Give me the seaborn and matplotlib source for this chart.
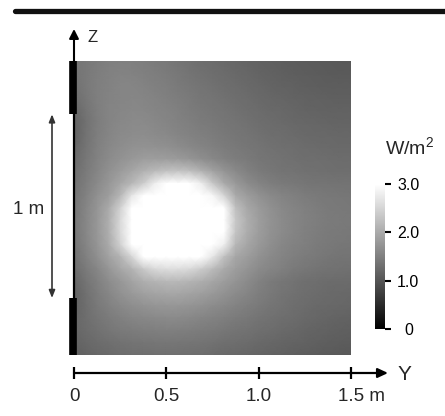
import numpy as np
import matplotlib
matplotlib.use("Agg")
import matplotlib.pyplot as plt
from matplotlib.transforms import offset_copy
import seaborn as sns

# Irradiance (W/m^2) sampled every 1/16 m along Y (columns, 0 -> 1.5 m)
# and every 1/15 m along Z (rows, 1.6 m at the top -> 0 at the bottom).
y_positions = [i * 0.0625 for i in range(25)]
z_positions = [1.6 - i * (1.6 / 24) for i in range(25)]

r00 = [1.38, 1.42, 1.46, 1.50, 1.51, 1.50, 1.48, 1.45, 1.42, 1.38, 1.34, 1.30, 1.27, 1.24, 1.21, 1.18, 1.15, 1.13, 1.11, 1.09, 1.07, 1.06, 1.05, 1.04, 1.04]
r01 = [1.36, 1.42, 1.48, 1.52, 1.54, 1.53, 1.51, 1.48, 1.45, 1.41, 1.37, 1.33, 1.30, 1.27, 1.24, 1.21, 1.18, 1.15, 1.13, 1.11, 1.09, 1.08, 1.07, 1.06, 1.06]
r02 = [1.33, 1.42, 1.49, 1.53, 1.56, 1.56, 1.54, 1.51, 1.48, 1.44, 1.40, 1.36, 1.33, 1.30, 1.27, 1.24, 1.21, 1.18, 1.16, 1.14, 1.12, 1.11, 1.10, 1.09, 1.09]
r03 = [1.28, 1.40, 1.49, 1.54, 1.57, 1.58, 1.57, 1.54, 1.51, 1.47, 1.43, 1.39, 1.36, 1.33, 1.30, 1.27, 1.24, 1.21, 1.19, 1.17, 1.15, 1.14, 1.13, 1.12, 1.12]
r04 = [1.20, 1.36, 1.48, 1.55, 1.58, 1.60, 1.59, 1.57, 1.54, 1.50, 1.46, 1.42, 1.39, 1.36, 1.33, 1.30, 1.27, 1.24, 1.22, 1.20, 1.18, 1.17, 1.16, 1.15, 1.15]
r05 = [1.15, 1.33, 1.47, 1.55, 1.60, 1.62, 1.62, 1.60, 1.57, 1.53, 1.49, 1.45, 1.42, 1.39, 1.36, 1.33, 1.30, 1.27, 1.25, 1.23, 1.21, 1.20, 1.19, 1.18, 1.18]
r06 = [1.15, 1.34, 1.48, 1.57, 1.62, 1.65, 1.66, 1.64, 1.61, 1.57, 1.53, 1.49, 1.46, 1.42, 1.39, 1.36, 1.33, 1.30, 1.28, 1.26, 1.24, 1.23, 1.22, 1.21, 1.21]
r07 = [1.20, 1.37, 1.50, 1.60, 1.66, 1.70, 1.72, 1.71, 1.69, 1.65, 1.60, 1.55, 1.50, 1.46, 1.42, 1.39, 1.36, 1.33, 1.31, 1.29, 1.27, 1.26, 1.25, 1.24, 1.24]
r08 = [1.25, 1.40, 1.53, 1.64, 1.72, 1.79, 1.84, 1.86, 1.85, 1.82, 1.76, 1.68, 1.60, 1.53, 1.47, 1.43, 1.39, 1.36, 1.34, 1.32, 1.30, 1.29, 1.28, 1.27, 1.27]
r09 = [1.30, 1.43, 1.57, 1.70, 1.82, 1.95, 2.08, 2.20, 2.28, 2.30, 2.25, 2.10, 1.92, 1.75, 1.62, 1.52, 1.45, 1.40, 1.37, 1.35, 1.33, 1.32, 1.31, 1.30, 1.30]
r10 = [1.33, 1.47, 1.62, 1.78, 1.95, 2.15, 2.40, 2.80, 3.10, 3.20, 3.10, 2.80, 2.35, 2.00, 1.80, 1.65, 1.55, 1.48, 1.44, 1.41, 1.39, 1.37, 1.36, 1.35, 1.35]
r11 = [1.36, 1.52, 1.70, 1.85, 2.15, 2.70, 4.00, 4.00, 4.00, 4.00, 4.00, 3.50, 2.90, 2.50, 2.00, 1.85, 1.72, 1.62, 1.55, 1.50, 1.46, 1.43, 1.41, 1.40, 1.39]
r12 = [1.38, 1.56, 1.75, 2.00, 2.45, 3.40, 4.00, 4.00, 4.00, 4.00, 4.00, 4.00, 4.00, 3.00, 2.25, 1.98, 1.82, 1.70, 1.61, 1.55, 1.51, 1.47, 1.44, 1.42, 1.41]
r13 = [1.40, 1.58, 1.78, 2.05, 2.55, 3.50, 4.00, 4.00, 4.00, 4.00, 4.00, 4.00, 4.00, 3.40, 2.35, 2.05, 1.86, 1.73, 1.64, 1.57, 1.52, 1.48, 1.45, 1.43, 1.42]
r14 = [1.40, 1.58, 1.78, 2.05, 2.55, 3.50, 4.00, 4.00, 4.00, 4.00, 4.00, 4.00, 4.00, 3.30, 2.30, 2.03, 1.85, 1.72, 1.63, 1.56, 1.51, 1.47, 1.44, 1.42, 1.41]
r15 = [1.38, 1.55, 1.75, 2.00, 2.45, 3.20, 4.00, 4.00, 4.00, 4.00, 4.00, 4.00, 3.60, 2.80, 2.15, 1.95, 1.80, 1.68, 1.59, 1.53, 1.49, 1.45, 1.42, 1.40, 1.39]
r16 = [1.33, 1.50, 1.68, 1.90, 2.10, 2.50, 3.40, 4.00, 4.00, 4.00, 4.00, 3.40, 2.70, 2.25, 1.95, 1.85, 1.72, 1.62, 1.55, 1.49, 1.45, 1.42, 1.39, 1.37, 1.36]
r17 = [1.28, 1.43, 1.58, 1.76, 1.95, 2.10, 2.35, 2.55, 2.60, 2.60, 2.55, 2.40, 2.20, 2.00, 1.85, 1.74, 1.64, 1.56, 1.50, 1.44, 1.40, 1.37, 1.34, 1.33, 1.32]
r18 = [1.20, 1.36, 1.50, 1.65, 1.78, 1.92, 2.04, 2.12, 2.16, 2.16, 2.12, 2.05, 1.95, 1.84, 1.74, 1.63, 1.53, 1.45, 1.39, 1.35, 1.31, 1.29, 1.27, 1.26, 1.26]
r19 = [1.15, 1.32, 1.46, 1.58, 1.70, 1.80, 1.88, 1.93, 1.95, 1.95, 1.92, 1.87, 1.80, 1.72, 1.64, 1.56, 1.48, 1.42, 1.37, 1.33, 1.29, 1.27, 1.25, 1.24, 1.23]
r20 = [1.17, 1.30, 1.42, 1.52, 1.60, 1.67, 1.72, 1.75, 1.76, 1.76, 1.74, 1.70, 1.65, 1.60, 1.54, 1.48, 1.43, 1.38, 1.34, 1.30, 1.27, 1.24, 1.22, 1.21, 1.20]
r21 = [1.20, 1.29, 1.38, 1.45, 1.51, 1.56, 1.59, 1.61, 1.62, 1.62, 1.60, 1.57, 1.53, 1.49, 1.45, 1.41, 1.37, 1.33, 1.30, 1.27, 1.24, 1.21, 1.19, 1.17, 1.16]
r22 = [1.20, 1.27, 1.33, 1.39, 1.43, 1.46, 1.48, 1.49, 1.50, 1.49, 1.48, 1.46, 1.43, 1.40, 1.37, 1.34, 1.31, 1.28, 1.25, 1.22, 1.19, 1.17, 1.15, 1.13, 1.12]
r23 = [1.17, 1.22, 1.27, 1.31, 1.34, 1.36, 1.38, 1.39, 1.39, 1.39, 1.38, 1.36, 1.34, 1.31, 1.29, 1.27, 1.24, 1.21, 1.19, 1.17, 1.15, 1.13, 1.11, 1.09, 1.08]
r24 = [1.12, 1.17, 1.21, 1.24, 1.27, 1.29, 1.30, 1.31, 1.31, 1.31, 1.30, 1.28, 1.26, 1.24, 1.22, 1.20, 1.18, 1.16, 1.14, 1.12, 1.10, 1.08, 1.06, 1.05, 1.04]

irradiance = np.array([r00, r01, r02, r03, r04, r05, r06, r07, r08, r09, r10, r11, r12,
                       r13, r14, r15, r16, r17, r18, r19, r20, r21, r22, r23, r24])

cbar_ticks = [0, 1, 2, 3]
cbar_labels = ["0", "1.0", "2.0", "3.0"]
y_ticks = [0.0, 0.5, 1.0, 1.5]
y_tick_labels = ["0", "0.5", "1.0", "1.5"]
window_bottom, window_top = 0.31, 1.31

sns.set_style("white")
plt.rcParams["font.family"] = ["Liberation Sans", "DejaVu Sans"]
plt.rcParams["mathtext.default"] = "regular"

W, H = 445, 416
fig = plt.figure(figsize=(W / 100, H / 100), dpi=100)
ax = fig.add_axes([74 / W, 1 - 355 / H, (351 - 74) / W, (355 - 61) / H])
cax = fig.add_axes([375 / W, 1 - 329 / H, 10 / W, 145 / H])

sns.heatmap(irradiance, ax=ax, cbar_ax=cax, cmap="gray", vmin=0, vmax=3,
            xticklabels=False, yticklabels=False, shading="gouraud")

dy = y_positions[1] - y_positions[0]
dz = z_positions[0] - z_positions[1]
ztop = z_positions[0]


def col(y):
    return y / dy


def row(z):
    return (ztop - z) / dz


ax.set_xlim(col(y_positions[0]), col(y_positions[-1]))
ax.set_ylim(row(0), row(ztop))
for s in ax.spines.values():
    s.set_visible(False)


def shifted(dx=0, dyp=0):
    return offset_copy(ax.transData, fig=fig, x=dx, y=dyp, units="dots")


# Wall with the window frame above and below the opening
ax.plot([0, 0], [row(ztop), row(0)], color="black", lw=1.6, clip_on=False,
        solid_capstyle="butt", zorder=5)
for z0, z1 in [(window_top, ztop), (0, window_bottom)]:
    ax.plot([0, 0], [row(z0), row(z1)], transform=shifted(-1.5, 0), color="black",
            lw=5.5, clip_on=False, solid_capstyle="butt", zorder=6)

# Z axis arrow
ax.annotate("", xy=(0, row(ztop)), xycoords=shifted(0, 32),
            xytext=(0, row(ztop)), textcoords="data",
            arrowprops=dict(arrowstyle="-|>,head_length=0.55,head_width=0.28",
                            color="black", lw=1.5, shrinkA=0, shrinkB=0),
            annotation_clip=False)
fig.text(88 / W, 1 - 37 / H, "Z", fontsize=12, va="center", ha="left")

# Window opening height
ax.annotate("", xy=(0, row(window_top)), xycoords=shifted(-22, 0),
            xytext=(0, row(window_bottom)), textcoords=shifted(-22, 0),
            arrowprops=dict(arrowstyle="<|-|>,head_length=0.45,head_width=0.18",
                            color="#333333", lw=1.2, shrinkA=0, shrinkB=0),
            annotation_clip=False)
fig.text(29 / W, 1 - 209 / H, "1 m", fontsize=13.5, ha="center", va="center")

# Y axis with ticks below the map
ax.annotate("", xy=(col(1.5), row(0)), xycoords=shifted(37, -18),
            xytext=(0, row(0)), textcoords=shifted(0, -18),
            arrowprops=dict(arrowstyle="-|>,head_length=0.6,head_width=0.28",
                            color="black", lw=1.6, shrinkA=0, shrinkB=0),
            annotation_clip=False)
for yt, lab in zip(y_ticks, y_tick_labels):
    ax.plot([col(yt)], [row(0)], transform=shifted(0, -18), clip_on=False,
            marker="|", markersize=8, markeredgewidth=1.6, color="black")
    if yt == y_ticks[-1]:
        ax.text(col(yt), row(0), lab + " m", transform=shifted(-13, -41),
                ha="left", va="center", fontsize=13.5, clip_on=False)
    else:
        ax.text(col(yt), row(0), lab, transform=shifted(0, -41),
                ha="center", va="center", fontsize=13.5, clip_on=False)
fig.text(398 / W, 1 - 374 / H, "Y", fontsize=15, ha="left", va="center")

# Colour bar
cbar = ax.collections[0].colorbar
cbar.set_ticks(cbar_ticks)
cbar.set_ticklabels(cbar_labels)
cbar.outline.set_visible(False)
cax.tick_params(labelsize=11.5, length=4.3, width=1.5, pad=12.5, right=True, colors="black")
for t in cax.get_yticklabels():
    t.set_horizontalalignment("center")
fig.text(410 / W, 1 - 154 / H, "W/m$^2$", fontsize=14, ha="center", va="baseline")

# Rule across the top
fig.add_artist(plt.Line2D([15 / W, 1], [1 - 11 / H, 1 - 11 / H], color="#111111", lw=3.8))

fig.savefig("out.png", dpi=100)
